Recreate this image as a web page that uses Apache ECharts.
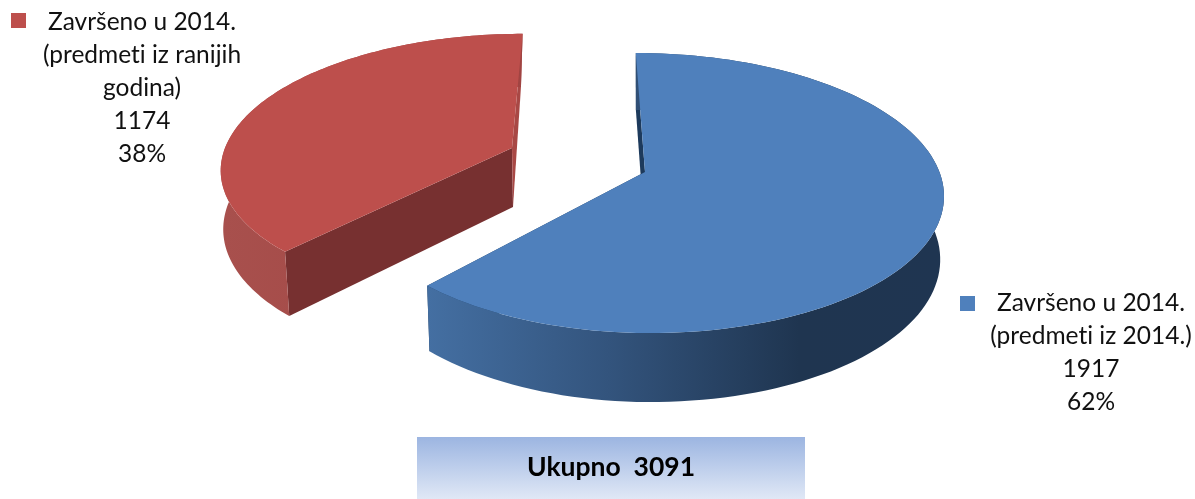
<!DOCTYPE html>
<html><head><meta charset="utf-8">
<style>html,body{margin:0;padding:0;background:#fff}#c{width:1195px;height:499px}</style>
<script src="https://cdn.jsdelivr.net/npm/echarts@6/dist/echarts.min.js"></script>
</head><body><div id="c"></div>
<script>
const sliceNames = ['Završeno u 2014.\n(predmeti iz 2014.)', 'Završeno u 2014.\n(predmeti iz ranijih\ngodina)'];
const sliceValues = [1917, 1174];
const totalLabel = 'Ukupno';

// the reference's typeface shows no "ti" ligature
const nativeFillText = CanvasRenderingContext2D.prototype.fillText;
CanvasRenderingContext2D.prototype.fillText = function () {
  this.textRendering = 'optimizeSpeed';
  return nativeFillText.apply(this, arguments);
};

const total = sliceValues.reduce((a, b) => a + b, 0);
const styles = [
  { top: '#4f80bc', inner: '#1d3a5c',
    wall: [[0, '#446fa2'], [0.35, '#33547d'], [0.72, '#1f3550'], [1, '#1f3551']],
    topP: { x: 642, y: 175, a: 137.7, b: 298.5, bl: 291.5, s: 7, k: 0.1287 },
    botP: { x: 642, y: 235, a: 143, b: 294, bl: 285, s: 7, k: 0.144 },
    apexT: [645, 172], apexB: [645, 235],
    swatch: [960, 296, 15, 15], text: [1091, 303] },
  { top: '#bd4f4c', inner: '#773030', innerEnd: '#a84845',
    wall: [[0, '#a8504d'], [1, '#a04442']],
    topP: { x: 512, y: 148, a: 129, b: 287, s: -12, k: 0.13 },
    botP: { x: 513, y: 207, a: 135.6, b: 286, s: -9, k: 0.13 },
    swatch: [11, 13, 15, 15], text: [142, 22] }
];
function project(p, t) {
  const u = Math.sin(t), v = -Math.cos(t), d = 1 - p.k * v;
  const b = u < 0 && p.bl ? p.bl : p.b;
  return [p.x + (b * u + p.s * v) / d, p.y + p.a * v / d];
}
function arc(p, t0, t1) {
  const n = 120, pts = [];
  for (let i = 0; i <= n; i++) pts.push(project(p, t0 + (t1 - t0) * i / n));
  return pts;
}
const chart = echarts.init(document.getElementById('c'), null, { renderer: 'canvas' });
chart.setOption({
  animation: false,
  backgroundColor: '#fff',
  graphic: [
    { type: 'rect', shape: { x: 417, y: 437, width: 388, height: 62 },
      style: { fill: new echarts.graphic.LinearGradient(0, 0, 0, 1, [{ offset: 0, color: '#9cb5e1' }, { offset: 1, color: '#e0e8f6' }]) } },
    { type: 'text', x: 611, y: 467, style: { text: totalLabel + '  ' + total, fill: '#000', font: 'bold 26.5px Lato', align: 'center', verticalAlign: 'middle' } }
  ],
  series: [{
    type: 'custom',
    coordinateSystem: 'none',
    silent: true,
    data: sliceValues,
    renderItem(params, api) {
      const i = params.dataIndex, st = styles[i];
      const before = sliceValues.slice(0, i).reduce((a, b) => a + b, 0);
      const t0 = before / total * 2 * Math.PI, t1 = (before + api.value(0)) / total * 2 * Math.PI;
      const rimTop = arc(st.topP, t0, t1), rimBot = arc(st.botP, t0, t1);
      const apexT = st.apexT || [st.topP.x, st.topP.y], apexB = st.apexB || [st.botP.x, st.botP.y];
      const poly = (points, fill) => ({ type: 'polygon', shape: { points }, style: { fill } });
      const wallFill = new echarts.graphic.LinearGradient(0, 0, 1, 0, st.wall.map(w => ({ offset: w[0], color: w[1] })));
      const pct = Math.round(api.value(0) / total * 100);
      return { type: 'group', children: [
        poly([rimTop[0], rimBot[0], apexB, apexT], st.inner),
        poly([rimTop[120], rimBot[120], apexB, apexT], st.innerEnd || st.inner),
        poly(rimTop.concat(rimBot.slice().reverse()), wallFill),
        poly([apexT].concat(rimTop), st.top),
        { type: 'rect', shape: { x: st.swatch[0], y: st.swatch[1], width: st.swatch[2], height: st.swatch[3] }, style: { fill: st.top } },
        { type: 'text', x: st.text[0], y: st.text[1] - 17, style: {
            text: sliceNames[i] + '\n' + api.value(0) + '\n' + pct + '%',
            fill: '#111', font: '24.5px Lato', lineHeight: 33.2, align: 'center', verticalAlign: 'top' } }
      ] };
    }
  }]
});
</script></body></html>
